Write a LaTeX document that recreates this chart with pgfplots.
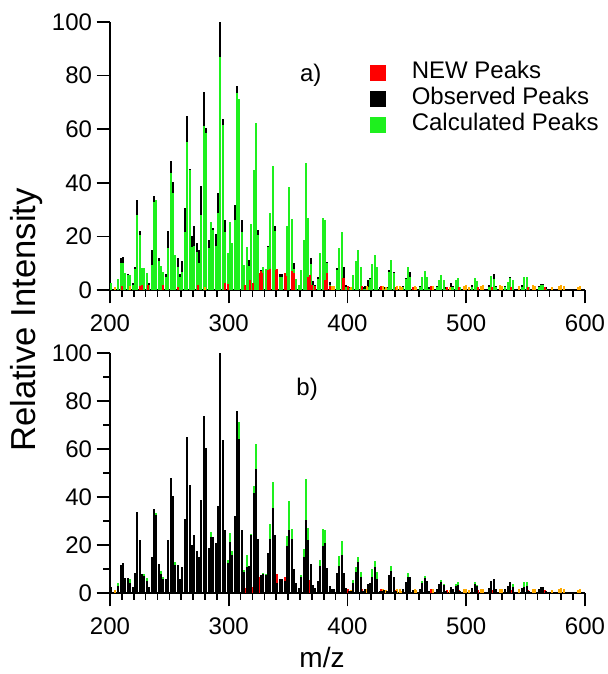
\documentclass[border=0pt]{standalone}
\usepackage{pgfplots}
\pgfplotsset{compat=1.18}
\usepackage{pgfplotstable}
\usepackage{fontspec}
\setmainfont{Liberation Sans}

\definecolor{calcgreen}{RGB}{30,240,30}
\definecolor{newred}{RGB}{255,0,0}
\definecolor{lowor}{RGB}{255,170,0}

% m/z, observed, calculated (relative intensity)
\pgfplotstableread{
m obs calc
201 2.6 2.5
207 3.0 4.0
209 11.8 9.9
211 12.4 10.0
213 6.4 6.2
215 6.1 5.6
217 4.2 5.7
219 2.6 2.0
221 8.5 7.7
223 33.6 28.0
225 22.0 20.5
227 8.0 8.1
229 7.0 8.1
231 5.0 6.4
233 2.6 2.0
235 15.0 9.5
237 35.0 32.7
239 32.6 33.5
241 12.0 11.0
243 8.0 9.0
245 6.0 6.8
247 6.0 5.0
249 22.0 15.6
251 48.0 43.5
253 40.4 36.3
255 11.5 13.0
257 11.8 8.5
259 6.0 4.9
261 11.0 6.8
263 30.7 21.8
265 65.1 55.3
267 45.2 44.7
269 20.0 16.2
271 24.0 16.6
273 17.6 14.3
275 14.9 9.9
277 38.8 28.0
279 73.9 61.2
281 60.3 58.5
283 18.6 15.8
285 23.3 25.5
287 23.3 22.4
289 21.0 16.4
291 36.3 28.8
293 100.0 87.0
295 63.8 61.6
297 26.3 21.8
299 12.4 13.7
301 21.4 25.2
303 15.9 17.4
305 31.9 26.1
307 76.0 73.4
309 64.0 71.1
311 26.3 21.5
313 8.6 9.5
315 11.0 16.0
317 11.3 9.0
319 24.0 24.5
321 41.5 44.7
323 51.5 62.2
325 22.4 20.5
327 7.5 5.0
329 8.0 8.5
331 7.5 7.9
333 16.5 16.2
335 22.4 28.6
337 35.6 46.4
339 24.0 22.0
341 4.0 3.0
343 6.0 5.0
345 6.0 5.0
347 5.0 4.0
349 19.4 23.9
351 26.3 38.5
353 22.4 26.5
355 10.0 8.0
357 4.0 4.0
359 2.0 2.0
361 6.7 7.5
363 15.0 18.5
365 30.6 47.5
367 22.0 27.0
369 12.0 9.7
371 3.3 2.0
373 2.0 1.0
375 5.0 4.0
377 11.4 13.8
379 19.4 26.7
381 20.8 26.3
383 10.4 10.2
385 3.0 2.0
387 1.5 1.0
389 1.5 1.0
391 8.2 7.4
393 11.2 15.5
395 15.7 21.5
397 8.5 4.4
399 2.0 1.0
401 1.0 0.8
403 1.0 0.8
405 4.0 5.6
407 8.6 10.8
409 12.8 14.8
411 6.8 8.6
413 1.0 0.5
415 1.5 0.5
417 3.7 1.0
419 4.3 4.0
421 6.8 9.8
423 10.8 13.2
425 6.0 8.6
427 1.0 0.5
429 1.0 0.5
431 1.2 0.5
433 1.0 0.8
435 7.5 6.8
437 9.0 11.2
439 6.8 6.4
441 1.0 0.5
447 1.5 1.0
449 4.4 4.1
451 6.8 8.4
453 6.8 5.0
455 1.2 0.5
461 1.5 1.0
463 4.0 5.0
465 6.1 7.0
467 5.0 5.0
469 1.0 0.5
475 1.5 1.0
477 3.7 3.7
479 4.7 5.6
481 3.5 3.7
483 1.0 0.5
487 2.5 1.0
489 1.5 1.0
491 3.0 3.9
493 3.5 4.5
495 1.0 1.0
505 2.0 1.0
507 3.7 4.5
509 3.1 3.5
519 2.0 1.0
521 4.9 5.2
523 6.0 4.0
525 1.5 1.0
533 1.5 1.0
535 3.0 3.1
537 4.7 4.5
539 2.5 3.8
547 2.0 1.0
549 2.4 4.7
551 3.0 4.7
553 1.0 1.0
561 1.5 1.0
563 2.4 1.8
565 2.4 1.8
567 1.0 0.5
}\peaks

% NEW peaks
\pgfplotstableread{
m h
210 1.5
225 1.5
227 1.8
232 1.8
245 1.8
257 1.2
274 1.8
297 2.5
299 2.2
314 2.0
318 3.6
320 2.5
326 6.5
327 7.1
328 6.5
333 7.5
335 7.7
340 7.6
341 8.0
347 6.5
348 5.4
353 7.0
355 6.5
367 5.0
368 5.6
370 2.0
373 1.5
381 3.7
383 6.2
385 1.5
396 4.4
397 4.4
400 1.5
412 1.5
428 1.5
441 1.2
455 1.2
470 1.5
484 1.2
494 1.2
510 1.2
522 1.2
538 1.2
552 1.2
566 1.2
}\newpeaks

% weak unassigned peaks (orange)
\pgfplotstableread{
m h
204 1.2
217 1.5
280 1.0
387 1.5
389 1.5
403 1.2
416 1.5
430 1.5
432 1.2
442 1.5
444 1.5
446 1.0
457 1.5
458 1.2
472 1.5
486 1.2
498 1.5
500 1.8
502 1.2
512 1.5
514 1.8
528 1.8
530 1.5
544 1.5
556 1.8
558 1.5
572 1.2
578 1.5
580 2.0
582 1.5
594 1.2
596 1.5
}\lowpeaks

\pgfplotsset{
  spec/.style={
    scale only axis, width=356.25pt,
    xmin=200, xmax=600, ymin=0, ymax=100,
    axis x line*=bottom, axis y line*=left,
    axis line style={line width=1.2pt},
    xtick={200,300,...,600}, minor x tick num=9,
    ytick={0,20,...,100},
    tick align=outside,
    major tick length=10pt, minor tick length=5pt,
    every tick/.style={black, line width=1.2pt},
    tick label style={font=\fontsize{18}{20}\selectfont},
    xticklabel style={yshift=-5pt},
    /pgf/number format/assume math mode=true,
  },
  pk/.style={ycomb, line width=1.5pt, no markers, forget plot},
}

\begin{document}
\begin{tikzpicture}
\useasboundingbox (0,0) rectangle (455.25pt,-505.5pt);

% a) calculated over observed
\begin{axis}[spec, at={(82.5pt,-217.5pt)}, anchor=south west, height=201pt,
    legend cell align=left,
    legend image code/.code={\fill[#1] (0pt,-5.6pt) rectangle (11.2pt,5.6pt);},
    legend style={at={(axis cs:419,85.5)}, anchor=north west, draw=none, fill=none,
      inner sep=0pt, row sep=2.5pt,
      font=\fontsize{18}{19.5}\selectfont,
      nodes={inner sep=0pt, text height=13pt, text depth=4pt},
      /tikz/every odd column/.append style={column sep=19.5pt}},
  ]
  \addplot[pk, black] table[x=m, y=obs] {\peaks};
  \addplot[pk, calcgreen] table[x=m, y=calc] {\peaks};
  \addplot[pk, newred] table[x=m, y=h] {\newpeaks};
  \addplot[pk, lowor] table[x=m, y=h] {\lowpeaks};
  \addlegendimage{newred}
  \addlegendentry{NEW Peaks}
  \addlegendimage{black}
  \addlegendentry{Observed Peaks}
  \addlegendimage{calcgreen}
  \addlegendentry{Calculated Peaks}
  \node[font=\fontsize{18}{20}\selectfont] at (axis cs:369,80) {a)};
\end{axis}

% b) observed over calculated
\begin{axis}[spec, at={(82.5pt,-444.75pt)}, anchor=south west, height=180pt,
    minor y tick num=1]
  \addplot[pk, calcgreen] table[x=m, y=calc] {\peaks};
  \addplot[pk, newred] table[x=m, y=h] {\newpeaks};
  \addplot[pk, lowor] table[x=m, y=h] {\lowpeaks};
  \addplot[pk, black] table[x=m, y=obs] {\peaks};
  \node[font=\fontsize{18}{20}\selectfont] at (axis cs:366,85) {b)};
\end{axis}

\node[rotate=90, font=\fontsize{26}{28}\selectfont] at (20pt,-240pt) {Relative Intensity};
\node[font=\fontsize{21}{24}\selectfont] at (241.5pt,-493pt) {m/z};
\end{tikzpicture}
\end{document}
